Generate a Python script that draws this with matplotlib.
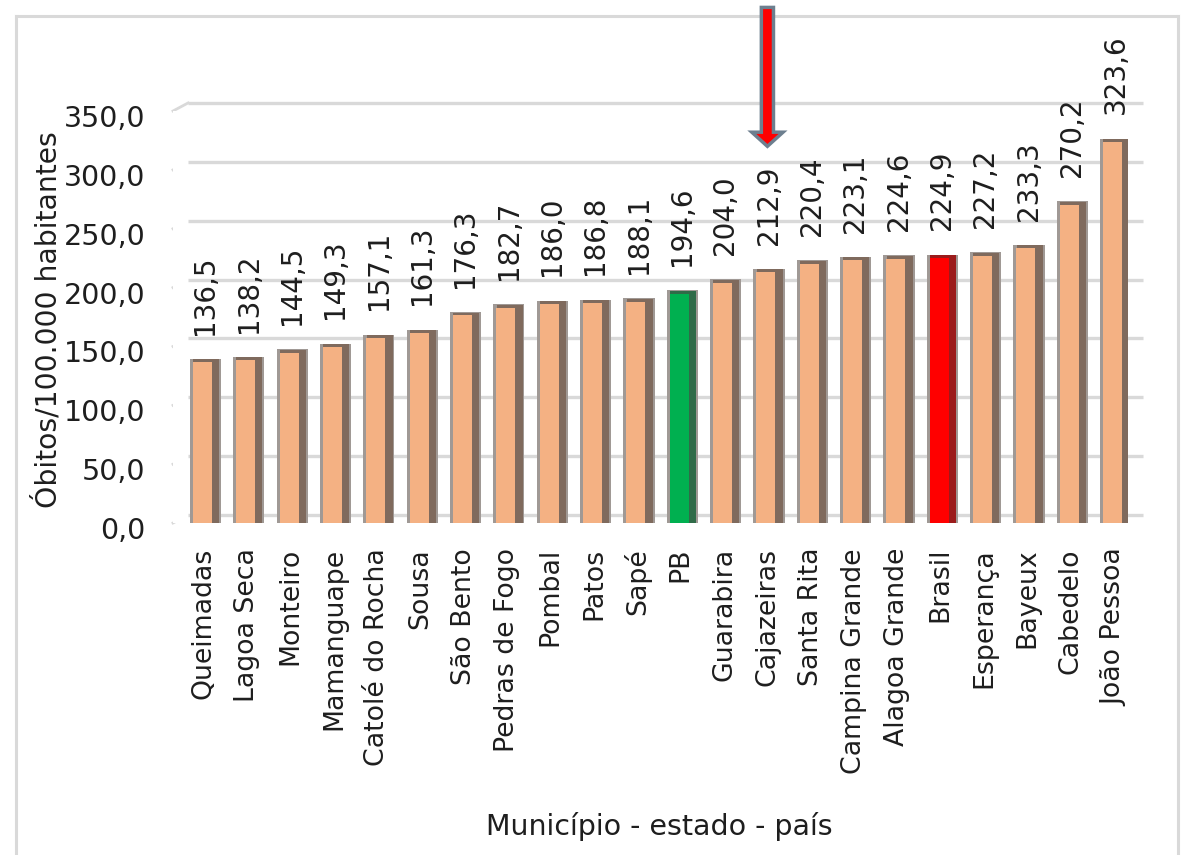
import matplotlib
matplotlib.use("Agg")
import matplotlib.pyplot as plt
import matplotlib.transforms as mtransforms
from matplotlib.patches import FancyArrow
from matplotlib.lines import Line2D
import numpy as np

# ---- data ----
municipios = ["Queimadas", "Lagoa Seca", "Monteiro", "Mamanguape", "Catolé do Rocha",
              "Sousa", "São Bento", "Pedras de Fogo", "Pombal", "Patos", "Sapé", "PB",
              "Guarabira", "Cajazeiras", "Santa Rita", "Campina Grande", "Alagoa Grande",
              "Brasil", "Esperança", "Bayeux", "Cabedelo", "João Pessoa"]
obitos = [136.5, 138.2, 144.5, 149.3, 157.1, 161.3, 176.3, 182.7, 186.0, 186.8, 188.1,
          194.6, 204.0, 212.9, 220.4, 223.1, 224.6, 224.9, 227.2, 233.3, 270.2, 323.6]
yticks = [0, 50, 100, 150, 200, 250, 300, 350]
highlight = "Cajazeiras"

face_default = "#F4B183"
face_special = {"PB": "#00B050", "Brasil": "#FF0000"}
side_special = {"PB": "#2f6b48", "Brasil": "#9b1b1b"}

TXT = "#1e1e1e"

W, H = 1185, 855
fig = plt.figure(figsize=(W / 100, H / 100), dpi=100)
left_px, right_px, bot_px, top_px = 173, 1128, 523, 111
ax = fig.add_axes([left_px / W, 1 - bot_px / H, (right_px - left_px) / W, (bot_px - top_px) / H])

x = np.arange(len(municipios))
vals = np.array(obitos)
ax.set_xlim(-0.715, len(municipios) - 1 + 0.32)
ax.set_ylim(0, 350)

# back-wall gridlines (offset to the upper right, like a 3D chart)
back = mtransforms.offset_copy(ax.transData, fig=fig, x=15, y=8, units="dots")
x0, x1 = ax.get_xlim()
for t in yticks:
    ax.plot([x0, x1], [t, t], color="#d9d9d9", lw=2.4, transform=back, clip_on=False, zorder=0,
            solid_capstyle="butt")
    p_front = ax.transData.transform((x0, t))
    p_back = back.transform((x0, t))
    fig.add_artist(Line2D([p_front[0] / W, p_back[0] / W], [p_front[1] / H, p_back[1] / H],
                          color="#d9d9d9", lw=2.0, zorder=0))

# bars (pseudo 3D)
faces = [face_special.get(m, face_default) for m in municipios]
sides = [side_special.get(m, "#7f6a5d") for m in municipios]
ax.bar(x + 0.035, vals + 5.5, width=0.72, bottom=-2.5, color="#a09995", zorder=2)
ax.bar(x + 0.05, vals + 3.5, width=0.6, bottom=-1.0, color=sides, zorder=3)
ax.bar(x - 0.035, vals, width=0.44, color=faces, zorder=4)

# data labels
for xi, v in zip(x, vals):
    ax.annotate(f"{v:.1f}".replace(".", ","), (xi + 0.03, v), xytext=(0, 20),
                textcoords="offset points", rotation=90, ha="center", va="bottom",
                fontsize=20, color=TXT, clip_on=False, annotation_clip=False)

# axes styling
for s in ax.spines.values():
    s.set_visible(False)
ax.set_yticks(yticks)
ax.set_yticklabels([f"{t:.1f}".replace(".", ",") for t in yticks], fontsize=20.5, color=TXT)
ax.set_xticks(x)
ax.set_xticklabels(municipios, rotation=90, fontsize=19.3, color=TXT, va="top", ha="center")
ax.tick_params(axis="both", length=0)
ax.tick_params(axis="y", pad=20)
ax.tick_params(axis="x", pad=18)
shift = mtransforms.ScaledTranslation(0, -5 / 100, fig.dpi_scale_trans)
for lab in ax.get_yticklabels():
    lab.set_transform(lab.get_transform() + shift)

fig.text(48 / W, 1 - 320 / H, "Óbitos/100.000 habitantes", rotation=90, ha="center",
         va="center", fontsize=20.3, color=TXT)
fig.text(659 / W, 1 - 826 / H, "Município - estado - país", ha="center", va="center",
         fontsize=20.5, color=TXT)

# highlight arrow over Cajazeiras
hi = municipios.index(highlight)
ax.add_patch(FancyArrow(hi, 438, 0, -118, width=0.28, head_width=0.72, head_length=12,
                        length_includes_head=True, fc="#FF0000", ec="#6d7f8f", lw=2.5,
                        clip_on=False, zorder=6))

# outer frame
for xs, ys in [([16, 16], [16, H]), ([1178, 1178], [16, H]), ([16, 1178], [16, 16])]:
    fig.add_artist(Line2D([v / W for v in xs], [1 - v / H for v in ys], color="#d9d9d9",
                          lw=2.2, zorder=0))

fig.savefig("out.png", dpi=100, facecolor="white")
